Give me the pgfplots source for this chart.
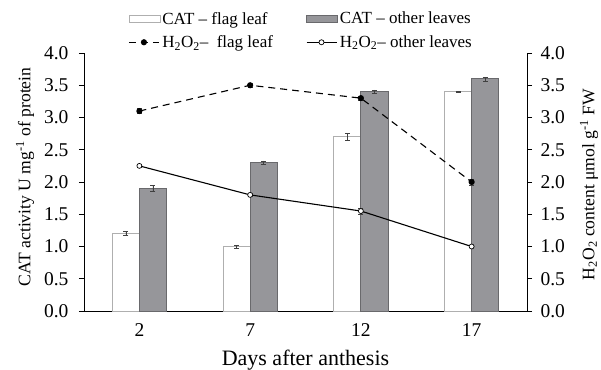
\documentclass[border=0pt]{standalone}
\usepackage{pgfplots}
\pgfplotsset{compat=1.18}
\usepackage{fontspec}
\setmainfont{Liberation Serif}
\definecolor{barg}{RGB}{150,150,154}
\definecolor{baredge}{RGB}{105,105,108}
\definecolor{whiteedge}{RGB}{175,175,175}
\pgfplotsset{
  lineleg/.style={legend image code/.code={\draw[mark repeat=2, mark phase=2, ##1] plot coordinates {(0pt,0pt) (15pt,0pt) (30pt,0pt)};}},
}
\begin{document}
\begin{tikzpicture}
\useasboundingbox (-84pt,-58pt) rectangle (517pt,311pt);
\pgfplotsset{
  every axis/.append style={
    font=\fontsize{19.5}{23}\selectfont,
    scale only axis, width=443pt, height=258pt,
    xmin=-0.5, xmax=3.5, ymin=0, ymax=4,
    ytick={0,0.5,...,4.0},
    yticklabel style={/pgf/number format/fixed, /pgf/number format/fixed zerofill, /pgf/number format/precision=1, /pgf/number format/assume math mode=true},
    tick align=outside, major tick length=5pt,
    tick style={black, line width=0.8pt},
    axis line style={line width=0.8pt},
    label style={font=\fontsize{22}{26}\selectfont},
  }
}
\begin{axis}[
  axis y line*=left, axis x line*=bottom,
  xtick={0,1,2,3}, xticklabels={2,7,12,17},
  xtick style={draw=none},
  x axis line style={-},
  y axis line style={-},
  xlabel={Days after anthesis},
  xlabel style={at={(axis description cs:0.5,-0.19)}, anchor=center},
  ylabel={CAT activity U mg\textsuperscript{-1} of protein},
  ylabel style={at={(axis description cs:-0.133,0.52)}, anchor=center, font=\fontsize{17.6}{21}\selectfont},
  xticklabel style={yshift=-4pt},
  yticklabel style={xshift=-7pt},
  ybar, bar width=0.245,
]
\addplot[fill=white, draw=whiteedge, line width=0.8pt, bar shift=-0.1225,
  error bars/.cd, y dir=both, y explicit, error bar style={black!75, line width=0.6pt}, error mark options={rotate=90, mark size=2.5pt, black!75}]
  coordinates {(0,1.2) +- (0,0.03) (1,1.0) +- (0,0.02) (2,2.7) +- (0,0.05) (3,3.4) +- (0,0.01)};
\addplot[fill=barg, draw=baredge, line width=0.8pt, bar shift=0.1225,
  error bars/.cd, y dir=both, y explicit, error bar style={black!75, line width=0.6pt}, error mark options={rotate=90, mark size=2.5pt, black!75}]
  coordinates {(0,1.9) +- (0,0.05) (1,2.3) +- (0,0.03) (2,3.4) +- (0,0.03) (3,3.6) +- (0,0.03)};
\end{axis}
\begin{axis}[
  axis y line*=right, axis x line=none,
  y axis line style={-},
  yticklabel style={xshift=5pt},
  ylabel={H\textsubscript{2}O\textsubscript{2} content μmol g\textsuperscript{-1} FW},
  ylabel style={at={(axis description cs:1.14,0.49)}, anchor=center, rotate=0, font=\fontsize{17.6}{21}\selectfont},
  legend columns=2,
  legend style={draw=none, fill=none, at={(axis description cs:0.49,1.175)}, anchor=north,
    font=\fontsize{17}{20}\selectfont, row sep=6pt,
    /tikz/every even column/.append style={column sep=31pt}},
  legend cell align=left,
]
\addlegendimage{legend image code/.code={\draw[fill=white, draw=whiteedge, line width=0.8pt] (0pt,-3.5pt) rectangle (31pt,3.5pt);}}
\addlegendentry{CAT – flag leaf}
\addlegendimage{legend image code/.code={\draw[fill=barg, draw=baredge, line width=0.8pt] (0pt,-3.5pt) rectangle (31pt,3.5pt);}}
\addlegendentry{CAT – other leaves}
\addplot[black, line width=1.1pt, dash pattern=on 7pt off 5pt, mark=*, mark size=2.5pt, mark options={solid, fill=black}, lineleg,
  error bars/.cd, y dir=both, y explicit, error bar style={black!75, line width=0.6pt, solid}, error mark options={rotate=90, mark size=2.5pt, black!75, solid}]
  coordinates {(0,3.1) +- (0,0.04) (1,3.5) +- (0,0.03) (2,3.3) +- (0,0.03) (3,2.0) +- (0,0.05)};
\addlegendentry{H\textsubscript{2}O\textsubscript{2}–\ \ flag leaf}
\addplot[black, line width=1.1pt, mark=*, mark size=2.5pt, mark options={fill=white, line width=0.7pt}, lineleg,
  error bars/.cd, y dir=both, y explicit, error bar style={black!75, line width=0.6pt}, error mark options={rotate=90, mark size=2.5pt, black!75}]
  coordinates {(0,2.25) +- (0,0.02) (1,1.8) +- (0,0.02) (2,1.55) +- (0,0.05) (3,1.0) +- (0,0.01)};
\addlegendentry{H\textsubscript{2}O\textsubscript{2}– other leaves}
\end{axis}
\end{tikzpicture}
\end{document}
